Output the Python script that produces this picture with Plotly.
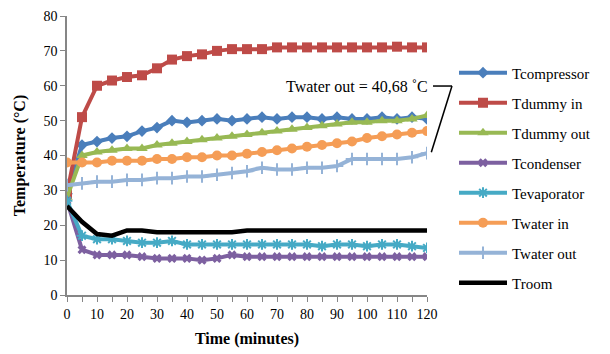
import plotly.graph_objects as go

time_min = [0, 5, 10, 15, 20, 25, 30, 35, 40, 45, 50, 55, 60, 65, 70, 75, 80, 85, 90, 95, 100, 105, 110, 115, 120]

t_compressor = [29, 43, 44, 45, 45.5, 47, 48, 50, 49.5, 50, 50.5, 50, 50.5, 51, 50.5, 51, 51, 50.5, 51, 50.5, 50.5, 51, 50.5, 51, 50.5]
t_dummy_in = [29, 51, 60, 61.5, 62.5, 63, 65, 67.5, 68.5, 69, 70, 70.5, 70.5, 70.5, 71, 71, 71, 71, 71, 71, 71, 71, 71.2, 71, 71]
t_dummy_out = [28, 40, 41, 41.5, 42, 42, 43, 43.5, 44, 44.5, 45, 45.5, 46, 46.5, 47, 47.5, 48, 48.5, 49, 49.5, 49.5, 50, 50, 50.5, 51.5]
t_condenser = [27, 13, 11.5, 11.5, 11.5, 11, 10.5, 10.5, 10.5, 10, 10.5, 11.5, 11, 11, 11, 11, 11, 11, 11, 11, 11, 11, 11, 11, 11]
t_evaporator = [27, 17, 16, 16, 15.5, 15, 15, 15.5, 14.5, 14.5, 14.5, 14.5, 14.5, 14.5, 14.5, 14.5, 14.5, 14, 14.5, 14.5, 14, 14.5, 14.5, 14, 13.5]
t_water_in = [38, 38, 38, 38.5, 38.5, 38.5, 39, 39, 39.5, 39.5, 40, 40, 40.5, 41, 41.5, 42, 42.5, 43, 43.5, 44, 45, 45.5, 46, 46.5, 47]
t_water_out = [31.5, 32, 32.5, 32.5, 33, 33, 33.5, 33.5, 34, 34, 34.5, 35, 35.5, 36.5, 36, 36, 36.5, 36.5, 37, 39, 39, 39, 39, 39.5, 40.68]
t_room = [25.5, 21, 17.5, 17, 18.5, 18.5, 18, 18, 18, 18, 18, 18, 18.5, 18.5, 18.5, 18.5, 18.5, 18.5, 18.5, 18.5, 18.5, 18.5, 18.5, 18.5, 18.5]

series = [
    ("Tcompressor", t_compressor, "#4A7EBB", "diamond", 9),
    ("Tdummy in", t_dummy_in, "#BE4B48", "square", 10),
    ("Tdummy out", t_dummy_out, "#98B954", "triangle-up", 10),
    ("Tcondenser", t_condenser, "#7D60A0", "x", 8),
    ("Tevaporator", t_evaporator, "#46AAC5", "asterisk-open", 9),
    ("Twater in", t_water_in, "#F59D56", "circle", 10),
    ("Twater out", t_water_out, "#95B3D7", "cross-thin-open", 9),
    ("Troom", t_room, "#000000", None, 0),
]

FONT = "Liberation Serif, Times New Roman, serif"

fig = go.Figure()
for i, (name, vals, col, sym, sz) in enumerate(series):
    if sym is None:
        fig.add_trace(go.Scatter(x=time_min, y=vals, name=name, mode="lines",
                                 line=dict(color=col, width=4.5), legendgroup=str(i)))
    else:
        mk = dict(symbol=sym, size=sz, color=col)
        if sym.endswith("open"):
            mk["line"] = dict(color=col, width=2)
        fig.add_trace(go.Scatter(x=time_min, y=vals, name=name, mode="lines+markers",
                                 line=dict(color=col, width=4), marker=mk, legendgroup=str(i)))

fig.update_layout(
    width=610, height=354,
    margin=dict(l=59, r=191, t=8, b=67, autoexpand=False),
    paper_bgcolor="white", plot_bgcolor="white",
    font=dict(family=FONT, size=14, color="black"),
    showlegend=True,
    legend=dict(x=1.075, y=0.855, xanchor="left", yanchor="top",
                font=dict(family=FONT, size=15, color="black"),
                traceorder="grouped", tracegroupgap=7.5, itemwidth=48,
                bgcolor="rgba(0,0,0,0)"),
    xaxis=dict(range=[0, 120], tickmode="array", tickvals=list(range(0, 121, 10)),
               showgrid=False, zeroline=False, showline=True, linecolor="#868686", linewidth=1.5,
               ticks="outside", ticklen=5, tickcolor="#868686",
               minor=dict(ticks="outside", dtick=5, ticklen=5, tickcolor="#868686"),
               tickfont=dict(size=14),
               title=dict(text="<b>Time (minutes)</b>", font=dict(size=16), standoff=12)),
    yaxis=dict(range=[0, 80], dtick=10, showgrid=False, zeroline=False, showline=True,
               linecolor="#868686", linewidth=1.5, ticks="outside", ticklen=5, tickcolor="#868686",
               tickfont=dict(size=14),
               title=dict(text="<b>Temperature (°C)</b>", font=dict(size=16), standoff=14)),
)

fig.add_annotation(xref="paper", yref="paper", x=1.008, y=0.749, xanchor="right", yanchor="middle",
                   text="Twater out = 40,68 ˚C", showarrow=False,
                   font=dict(family=FONT, size=16, color="black"))
fig.add_shape(type="line", xref="paper", yref="paper", x0=1.0167, y0=0.749, x1=1.0694, y1=0.749,
              line=dict(color="black", width=1.5))
fig.add_shape(type="line", xref="paper", yref="paper", x0=1.0694, y0=0.749, x1=1.012, y1=0.512,
              line=dict(color="black", width=1.5))

fig.write_html("out.html")
